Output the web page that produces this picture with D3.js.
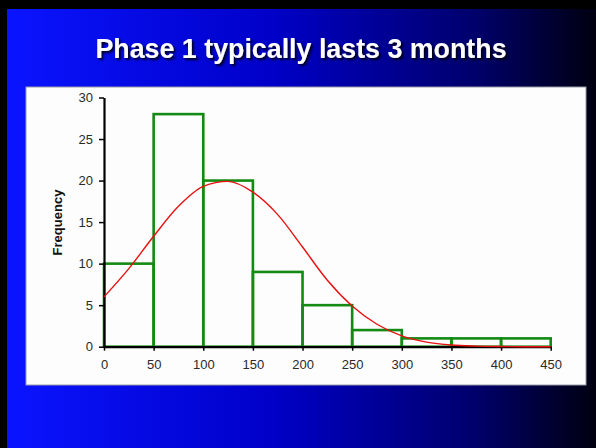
<!DOCTYPE html>
<html><head><meta charset="utf-8">
<script src="https://cdn.jsdelivr.net/npm/d3@7"></script>
<style>html,body{margin:0;padding:0;background:#000;}svg{display:block;}</style>
</head><body>
<script>
// Data
const binEdges = [0, 50, 100, 150, 200, 250, 300, 350, 400, 450];
const frequencies = [10, 28, 20, 9, 5, 2, 1, 1, 1];
const curveX = [0, 25, 50, 75, 100, 125, 150, 175, 200, 225, 250, 275, 300, 325, 350, 375, 400, 425, 450];
const curveY = [6.0, 9.4, 13.3, 16.9, 19.3, 19.9, 18.6, 15.9, 12.0, 8.0, 4.9, 2.7, 1.3, 0.55, 0.2, 0.07, 0.02, 0, 0];
const xTicks = [0, 50, 100, 150, 200, 250, 300, 350, 400, 450];
const yTicks = [0, 5, 10, 15, 20, 25, 30];
const titleText = "Phase 1 typically lasts 3 months";
const yLabel = "Frequency";

const W = 596, H = 448;
const svg = d3.select("body").append("svg").attr("width", W).attr("height", H);
const defs = svg.append("defs");
const grad = defs.append("linearGradient").attr("id", "bg").attr("x1", "0").attr("x2", "1").attr("y1", "0").attr("y2", "0");
grad.append("stop").attr("offset", "0").attr("stop-color", "#0a14ff");
grad.append("stop").attr("offset", "0.45").attr("stop-color", "#0000c8");
grad.append("stop").attr("offset", "0.8").attr("stop-color", "#00006a");
grad.append("stop").attr("offset", "1").attr("stop-color", "#000010");
const sh = defs.append("filter").attr("id", "sh").attr("x", "-10%").attr("y", "-30%").attr("width", "120%").attr("height", "160%");
sh.append("feDropShadow").attr("dx", 2).attr("dy", 2).attr("stdDeviation", 0.8).attr("flood-color", "#000").attr("flood-opacity", 0.85);

svg.append("rect").attr("width", W).attr("height", H).attr("fill", "#000");
svg.append("rect").attr("x", 7).attr("y", 9).attr("width", W - 7).attr("height", H - 9).attr("fill", "url(#bg)");

svg.append("text").attr("x", 301).attr("y", 58).attr("text-anchor", "middle")
  .attr("font-family", "Liberation Sans, Arial, sans-serif").attr("font-weight", "bold")
  .attr("font-size", 26.8).attr("fill", "#fff").attr("filter", "url(#sh)").text(titleText);

// white panel
svg.append("rect").attr("x", 26).attr("y", 87).attr("width", 560).attr("height", 298)
  .attr("fill", "#fdfdfd").attr("stroke", "#9a9aa8").attr("stroke-width", 1);

const x = d3.scaleLinear().domain([0, 450]).range([104, 550.7]);
const y = d3.scaleLinear().domain([0, 30]).range([346.7, 97.5]);

const font = "Liberation Sans, Arial, sans-serif";

// bars (outlined)
const bars = svg.append("g");
frequencies.forEach((f, i) => {
  bars.append("rect")
    .attr("x", x(binEdges[i])).attr("y", y(f))
    .attr("width", x(binEdges[i + 1]) - x(binEdges[i]))
    .attr("height", y(0) - y(f))
    .attr("fill", "none").attr("stroke", "#138a13").attr("stroke-width", 2.6);
});

// axes
const yAxis = svg.append("g").attr("transform", `translate(${x(0)},0)`)
  .call(d3.axisLeft(y).tickValues(yTicks).tickSize(5).tickSizeOuter(0).tickPadding(6));
const xAxis = svg.append("g").attr("transform", `translate(0,${y(0)})`)
  .call(d3.axisBottom(x).tickValues(xTicks).tickSize(4).tickSizeOuter(0).tickPadding(9));
[yAxis, xAxis].forEach(a => {
  a.select(".domain").attr("stroke", "#000").attr("stroke-width", 2.2);
  a.selectAll(".tick line").attr("stroke", "#000").attr("stroke-width", 1.5);
  a.selectAll(".tick text").attr("font-family", font).attr("font-size", 13).attr("fill", "#2a2a2a");
});

// curve (drawn on top)
const line = d3.line().x((d, i) => x(curveX[i])).y(d => y(d)).curve(d3.curveMonotoneX);
svg.append("path").datum(curveY).attr("d", line).attr("fill", "none")
  .attr("stroke", "#e81010").attr("stroke-width", 1.4);

svg.append("text").attr("transform", `translate(62,222.5) rotate(-90)`).attr("text-anchor", "middle")
  .attr("font-family", font).attr("font-weight", "bold").attr("font-size", 13).attr("fill", "#111").text(yLabel);
</script>
</body></html>
